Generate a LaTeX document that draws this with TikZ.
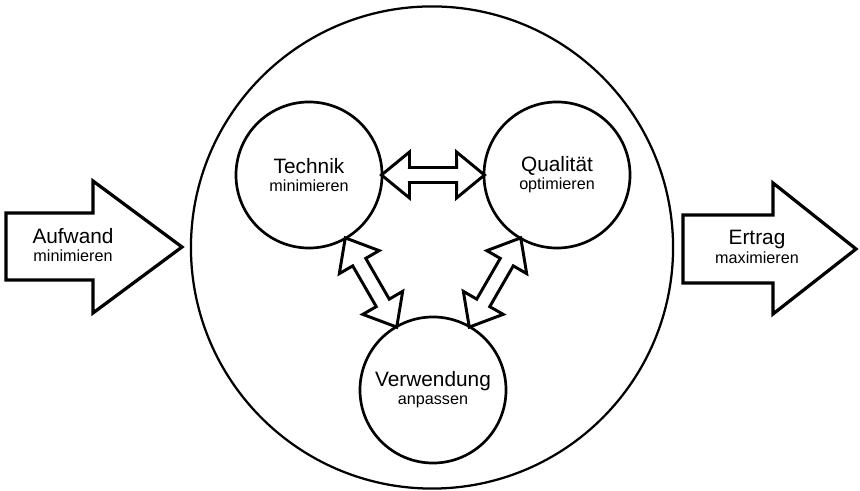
\documentclass[tikz,border=0pt]{standalone}
\usepackage{fontspec}
\setmainfont{Liberation Sans}
\usepackage{tikz}
\usetikzlibrary{calc}

\tikzset{
  zone/.style={circle, draw, line width=1.9pt, inner sep=0pt, minimum size=3.65cm,
    align=center, font=\fontsize{11.5}{13}\selectfont},
  link/.style={draw, line width=2.1pt, fill=white},
  bigarrow/.style={draw, line width=2.3pt},
  tag/.style={align=center, font=\fontsize{11.5}{13}\selectfont}
}

% first line of a label, larger
\newcommand{\hw}[1]{{\fontsize{14.8}{17}\selectfont #1}}

% hollow double arrow between two circles
\newcommand{\linkarrow}[2]{%
  \draw[link] let \p1=($(#2)-(#1)$), \n1={atan2(\y1,\x1)}, \p2=($(#1)!0.5!(#2)$) in
    ($(\p2)+(\n1:51.5)$) -- ($(\p2)+(\n1+44.4:32.9)$) -- ($(\p2)+(\n1+17.7:24.7)$)
    -- ($(\p2)+(\n1+162.3:24.7)$) -- ($(\p2)+(\n1+135.6:32.9)$) -- ($(\p2)+(\n1+180:51.5)$)
    -- ($(\p2)+(\n1-135.6:32.9)$) -- ($(\p2)+(\n1-162.3:24.7)$) -- ($(\p2)+(\n1-17.7:24.7)$)
    -- ($(\p2)+(\n1-44.4:32.9)$) -- cycle;}

\begin{document}
\begin{tikzpicture}[x=0.025cm, y=0.025cm]
    \useasboundingbox (0,0) rectangle (860,491);

    \node[circle, draw, line width=1.6pt, inner sep=0pt, minimum size=12.05cm] (field) at (432,243.5) {};

    \node[zone] (technik) at (309,316) {\hw{Technik}\\minimieren};
    \node[zone] (qualitaet) at (557,316) {\hw{Qualität}\\optimieren};
    \node[zone] (verwendung) at (433,101) {\hw{Verwendung}\\anpassen};

    \linkarrow{technik}{qualitaet}
    \linkarrow{technik}{verwendung}
    \linkarrow{qualitaet}{verwendung}

    % input and output
    \draw[bigarrow] (6,211) -- (93,211) -- (93,178) -- (182,244) -- (93,310) -- (93,278) -- (6,278) -- cycle;
    \node[tag] (aufwand) at (73,246) {\hw{Aufwand}\\minimieren};

    \draw[bigarrow] (683,208) -- (773,208) -- (773,177) -- (856,242) -- (773,308) -- (773,276) -- (683,276) -- cycle;
    \node[tag] (ertrag) at (757,244) {\hw{Ertrag}\\maximieren};
\end{tikzpicture}
\end{document}
